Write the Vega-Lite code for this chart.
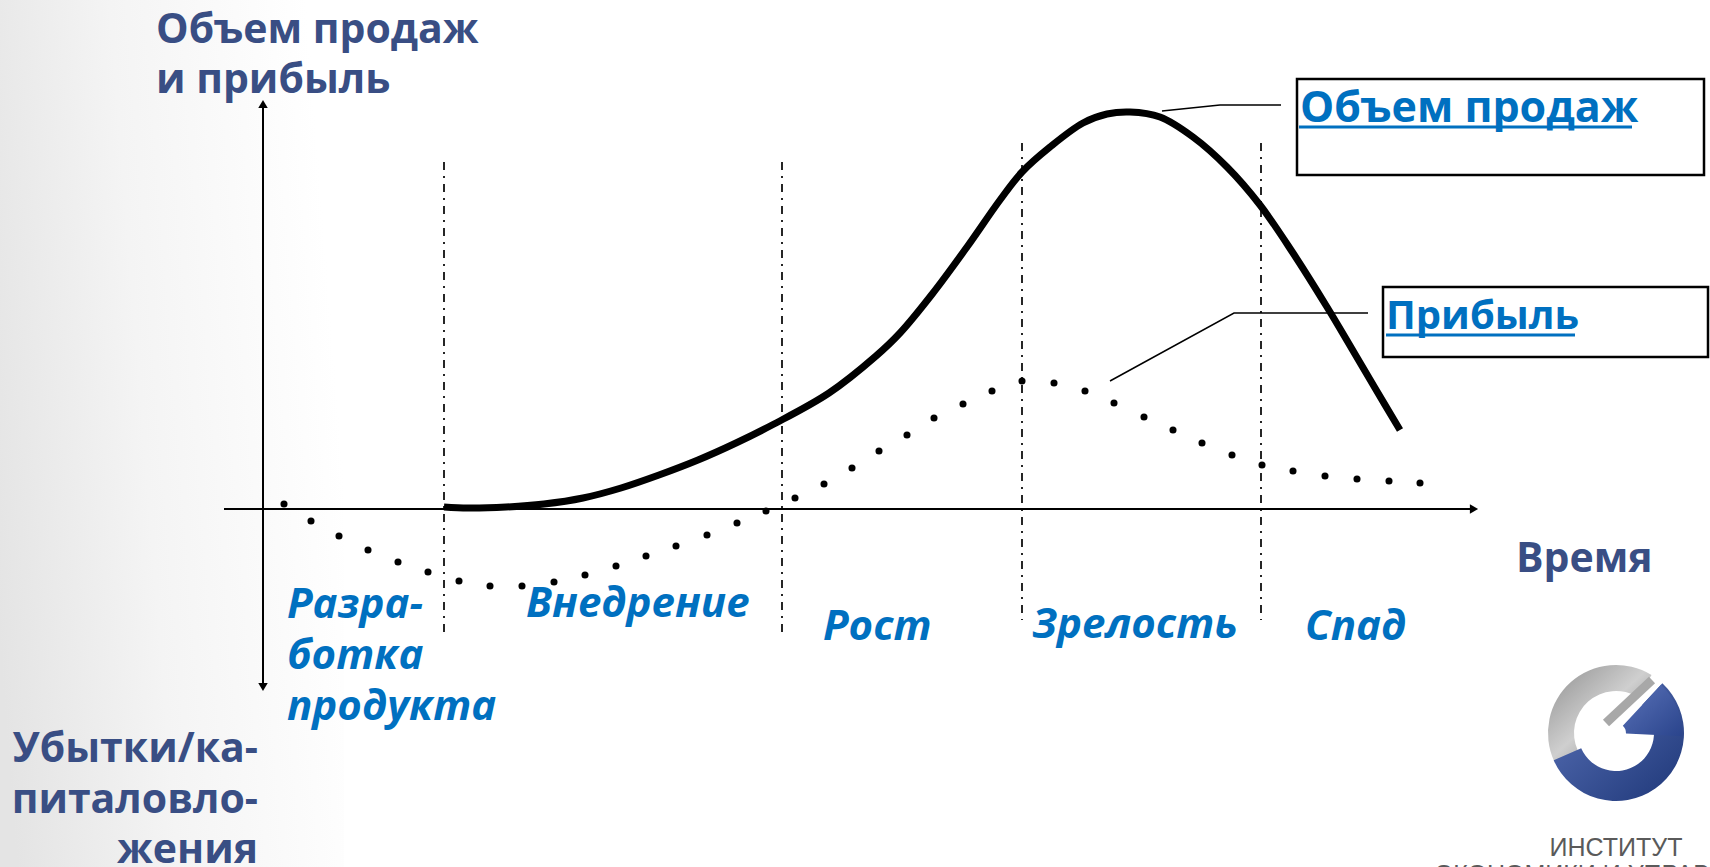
{
  "$schema": "https://vega.github.io/schema/vega-lite/v6.json",
  "width": 1710,
  "height": 867,
  "autosize": {"type": "none"},
  "padding": 0,
  "background": "white",
  "config": {"view": {"stroke": null}},
  "datasets": {
    "bg": [{"t": -26.4, "t2": 8, "v": -35.8, "v2": 50.9}],
    "logo": [
      {"t": 135.2, "v": -22.4, "a0": -2.0, "a1": 0.55, "part": "gray"},
      {"t": 135.2, "v": -22.4, "a0": 0.75, "a1": 4.3, "part": "blue"},
      {"t": 135.2, "v": -22.4, "a0": 0.75, "a1": 1.62, "part": "wedge"}
    ],
    "logoBars": [
      {"t": 138.8, "t2": 134.2, "v": -17.1, "v2": -21.4, "part": "gray"}
    ],
    "stages": [
      {"t": 18.0, "v": 34.7, "v2": -12.9},
      {"t": 51.8, "v": 34.7, "v2": -12.9},
      {"t": 75.8, "v": 36.6, "v2": -11.1},
      {"t": 99.7, "v": 36.6, "v2": -11.1}
    ],
    "hAxis": [{"t": -4.0, "t2": 121.0, "v": 0}],
    "vAxis": [{"t": -0.1, "v": 40.6, "v2": -17.9}],
    "arrows": [
      {"t": 121.0, "v": 0, "sh": "triangle-right"},
      {"t": -0.1, "v": 40.5, "sh": "triangle-up"},
      {"t": -0.1, "v": -17.8, "sh": "triangle-down"}
    ],
    "sales": [
      {"t": 18.0, "v": 0.2}, {"t": 20.4, "v": 0.1}, {"t": 24.2, "v": 0.2},
      {"t": 28.0, "v": 0.5}, {"t": 31.9, "v": 1.1}, {"t": 35.7, "v": 2.1},
      {"t": 39.5, "v": 3.4}, {"t": 43.4, "v": 4.9}, {"t": 47.2, "v": 6.6},
      {"t": 51.0, "v": 8.5}, {"t": 56.5, "v": 11.6}, {"t": 61.2, "v": 15.3},
      {"t": 63.6, "v": 17.6}, {"t": 66.9, "v": 21.6}, {"t": 70.3, "v": 26.2},
      {"t": 73.6, "v": 30.9}, {"t": 75.8, "v": 33.7}, {"t": 78.6, "v": 36.2},
      {"t": 81.9, "v": 38.6}, {"t": 84.3, "v": 39.5}, {"t": 86.6, "v": 39.7},
      {"t": 89.6, "v": 39.2}, {"t": 92.9, "v": 37.2}, {"t": 96.3, "v": 34.2},
      {"t": 99.6, "v": 30.4}, {"t": 102.9, "v": 25.6}, {"t": 106.3, "v": 20.2},
      {"t": 108.8, "v": 16.0}, {"t": 111.1, "v": 12.1}, {"t": 113.6, "v": 7.9}
    ],
    "profit": [
      {"t": 2.0, "v": 0.5}, {"t": 4.7, "v": -1.2}, {"t": 7.5, "v": -2.7},
      {"t": 10.4, "v": -4.1}, {"t": 13.4, "v": -5.3}, {"t": 16.4, "v": -6.3},
      {"t": 19.5, "v": -7.2}, {"t": 22.6, "v": -7.7}, {"t": 25.8, "v": -7.7},
      {"t": 29.0, "v": -7.3}, {"t": 32.1, "v": -6.6}, {"t": 35.2, "v": -5.7},
      {"t": 38.2, "v": -4.7}, {"t": 41.2, "v": -3.7}, {"t": 44.3, "v": -2.6},
      {"t": 47.3, "v": -1.4}, {"t": 50.2, "v": -0.2}, {"t": 53.1, "v": 1.1},
      {"t": 56.0, "v": 2.5}, {"t": 58.8, "v": 4.1}, {"t": 61.5, "v": 5.8},
      {"t": 64.3, "v": 7.4}, {"t": 67.0, "v": 9.1}, {"t": 69.9, "v": 10.5},
      {"t": 72.8, "v": 11.8}, {"t": 75.8, "v": 12.8}, {"t": 79.0, "v": 12.6},
      {"t": 82.1, "v": 11.8}, {"t": 85.0, "v": 10.6}, {"t": 88.0, "v": 9.2},
      {"t": 90.9, "v": 7.9}, {"t": 93.8, "v": 6.6}, {"t": 96.8, "v": 5.4},
      {"t": 99.8, "v": 4.4}, {"t": 102.9, "v": 3.8}, {"t": 106.1, "v": 3.3},
      {"t": 109.3, "v": 3.0}, {"t": 112.5, "v": 2.8}, {"t": 115.6, "v": 2.6}
    ],
    "connectors": [
      {"id": "sales", "o": 1, "t": 89.8, "v": 39.8},
      {"id": "sales", "o": 2, "t": 95.6, "v": 40.4},
      {"id": "sales", "o": 3, "t": 101.7, "v": 40.4},
      {"id": "profit", "o": 1, "t": 84.6, "v": 12.8},
      {"id": "profit", "o": 2, "t": 97.0, "v": 19.6},
      {"id": "profit", "o": 3, "t": 110.4, "v": 19.6}
    ],
    "boxes": [
      {"t": 103.3, "t2": 144.0, "v": 43.0, "v2": 33.4},
      {"t": 111.9, "t2": 144.4, "v": 22.2, "v2": 15.2}
    ],
    "underlines": [
      {"t": 103.5, "t2": 136.8, "v": 38.2},
      {"t": 112.2, "t2": 131.1, "v": 17.4}
    ],
    "labels": [
      {"kind": "title", "t": -10.8, "v": 46.6, "text": "Объем продаж"},
      {"kind": "title", "t": -10.8, "v": 41.6, "text": "и прибыль"},
      {"kind": "title", "t": 125.2, "v": -6.3, "text": "Время"},
      {"kind": "loss", "t": -0.6, "v": -25.3, "text": "Убытки/ка-"},
      {"kind": "loss", "t": -0.6, "v": -30.4, "text": "питаловло-"},
      {"kind": "loss", "t": -0.6, "v": -35.4, "text": "жения"},
      {"kind": "stage", "t": 2.3, "v": -10.9, "text": "Разра-"},
      {"kind": "stage", "t": 2.3, "v": -16.0, "text": "ботка"},
      {"kind": "stage", "t": 2.3, "v": -21.1, "text": "продукта"},
      {"kind": "stage", "t": 26.2, "v": -10.8, "text": "Внедрение"},
      {"kind": "stage", "t": 55.9, "v": -13.1, "text": "Рост"},
      {"kind": "stage", "t": 76.8, "v": -12.9, "text": "Зрелость"},
      {"kind": "stage", "t": 104.1, "v": -13.1, "text": "Спад"},
      {"kind": "boxSales", "t": 103.6, "v": 38.7, "text": "Объем продаж"},
      {"kind": "boxProfit", "t": 112.2, "v": 18.0, "text": "Прибыль"},
      {"kind": "logo", "t": 135.2, "v": -34.7, "text": "ИНСТИТУТ"},
      {"kind": "logo", "t": 135.2, "v": -37.4, "text": "ЭКОНОМИКИ И УПРАВЛЕНИЯ"}
    ]
  },
  "encoding": {
    "x": {"field": "t", "type": "quantitative", "scale": {"domain": [-26.4, 144.6], "nice": false, "zero": false}, "axis": null},
    "y": {"field": "v", "type": "quantitative", "scale": {"domain": [-35.8, 50.9], "nice": false, "zero": false}, "axis": null}
  },
  "layer": [
    {
      "data": {"name": "bg"},
      "mark": {"type": "rect", "fill": {"gradient": "linear", "x1": 0, "y1": 0.75, "x2": 1, "y2": 0.55, "stops": [{"offset": 0, "color": "#e4e4e4"}, {"offset": 0.45, "color": "#f4f4f4"}, {"offset": 1, "color": "#ffffff"}]}, "strokeWidth": 0},
      "encoding": {"x2": {"field": "t2"}, "y2": {"field": "v2"}}
    },
    {
      "data": {"name": "logo"},
      "transform": [{"filter": "datum.part === 'gray'"}],
      "mark": {"type": "arc", "innerRadius": 42, "outerRadius": 68, "fill": {"gradient": "linear", "x1": 0, "y1": 0, "x2": 1, "y2": 1, "stops": [{"offset": 0, "color": "#8e8e8e"}, {"offset": 0.5, "color": "#cfcfcf"}, {"offset": 1, "color": "#7a7a7a"}]}},
      "encoding": {"theta": {"field": "a0", "type": "quantitative", "scale": null}, "theta2": {"field": "a1"}}
    },
    {
      "data": {"name": "logo"},
      "transform": [{"filter": "datum.part === 'blue'"}],
      "mark": {"type": "arc", "innerRadius": 38, "outerRadius": 68, "fill": {"gradient": "linear", "x1": 0, "y1": 0, "x2": 1, "y2": 1, "stops": [{"offset": 0, "color": "#5a72b8"}, {"offset": 1, "color": "#1e3778"}]}},
      "encoding": {"theta": {"field": "a0", "type": "quantitative", "scale": null}, "theta2": {"field": "a1"}}
    },
    {
      "data": {"name": "logo"},
      "transform": [{"filter": "datum.part === 'wedge'"}],
      "mark": {"type": "arc", "innerRadius": 10, "outerRadius": 66, "fill": {"gradient": "linear", "x1": 0, "y1": 0, "x2": 1, "y2": 1, "stops": [{"offset": 0, "color": "#5a72b8"}, {"offset": 1, "color": "#2a448c"}]}},
      "encoding": {"theta": {"field": "a0", "type": "quantitative", "scale": null}, "theta2": {"field": "a1"}}
    },
    {
      "data": {"name": "logoBars"},
      "mark": {"type": "rule", "color": "#a8a8a8", "strokeWidth": 9, "strokeCap": "butt"},
      "encoding": {"x2": {"field": "t2"}, "y2": {"field": "v2"}}
    },
    {
      "data": {"name": "stages"},
      "mark": {"type": "rule", "color": "black", "strokeWidth": 1.7, "strokeDash": [8, 6, 2, 6]},
      "encoding": {"y2": {"field": "v2"}}
    },
    {
      "data": {"name": "hAxis"},
      "mark": {"type": "rule", "color": "black", "strokeWidth": 2},
      "encoding": {"x2": {"field": "t2"}}
    },
    {
      "data": {"name": "vAxis"},
      "mark": {"type": "rule", "color": "black", "strokeWidth": 2},
      "encoding": {"y2": {"field": "v2"}}
    },
    {
      "data": {"name": "arrows"},
      "mark": {"type": "point", "filled": true, "color": "black", "opacity": 1, "size": 90},
      "encoding": {"shape": {"field": "sh", "type": "nominal", "scale": null}}
    },
    {
      "data": {"name": "sales"},
      "mark": {"type": "line", "color": "black", "strokeWidth": 7, "interpolate": "catmull-rom"},
      "encoding": {}
    },
    {
      "data": {"name": "profit"},
      "mark": {"type": "circle", "color": "black", "opacity": 1, "size": 50},
      "encoding": {}
    },
    {
      "data": {"name": "connectors"},
      "mark": {"type": "line", "color": "black", "strokeWidth": 1.5},
      "encoding": {"detail": {"field": "id"}, "order": {"field": "o"}}
    },
    {
      "data": {"name": "boxes"},
      "mark": {"type": "rect", "fillOpacity": 0, "stroke": "black", "strokeWidth": 2.5},
      "encoding": {"x2": {"field": "t2"}, "y2": {"field": "v2"}}
    },
    {
      "data": {"name": "underlines"},
      "mark": {"type": "rule", "color": "#0070C0", "strokeWidth": 3},
      "encoding": {"x2": {"field": "t2"}}
    },
    {
      "data": {"name": "labels"},
      "transform": [{"filter": "datum.kind === 'title'"}],
      "mark": {"type": "text", "align": "left", "baseline": "alphabetic", "font": "Open Sans", "fontWeight": "bold", "fontSize": 41, "color": "#394E84"},
      "encoding": {"text": {"field": "text"}}
    },
    {
      "data": {"name": "labels"},
      "transform": [{"filter": "datum.kind === 'loss'"}],
      "mark": {"type": "text", "align": "right", "baseline": "alphabetic", "font": "Open Sans", "fontWeight": "bold", "fontSize": 41, "color": "#394E84"},
      "encoding": {"text": {"field": "text"}}
    },
    {
      "data": {"name": "labels"},
      "transform": [{"filter": "datum.kind === 'stage'"}],
      "mark": {"type": "text", "align": "left", "baseline": "alphabetic", "font": "Open Sans", "fontWeight": "bold", "fontStyle": "italic", "fontSize": 42, "color": "#0070C0"},
      "encoding": {"text": {"field": "text"}}
    },
    {
      "data": {"name": "labels"},
      "transform": [{"filter": "datum.kind === 'boxSales'"}],
      "mark": {"type": "text", "align": "left", "baseline": "alphabetic", "font": "Open Sans", "fontWeight": "bold", "fontSize": 43, "color": "#0070C0"},
      "encoding": {"text": {"field": "text"}}
    },
    {
      "data": {"name": "labels"},
      "transform": [{"filter": "datum.kind === 'boxProfit'"}],
      "mark": {"type": "text", "align": "left", "baseline": "alphabetic", "font": "Open Sans", "fontWeight": "bold", "fontSize": 40, "color": "#0070C0"},
      "encoding": {"text": {"field": "text"}}
    },
    {
      "data": {"name": "labels"},
      "transform": [{"filter": "datum.kind === 'logo'"}],
      "mark": {"type": "text", "align": "center", "baseline": "alphabetic", "font": "Liberation Sans", "fontSize": 25, "color": "#5a5a5a"},
      "encoding": {"text": {"field": "text"}}
    }
  ]
}
